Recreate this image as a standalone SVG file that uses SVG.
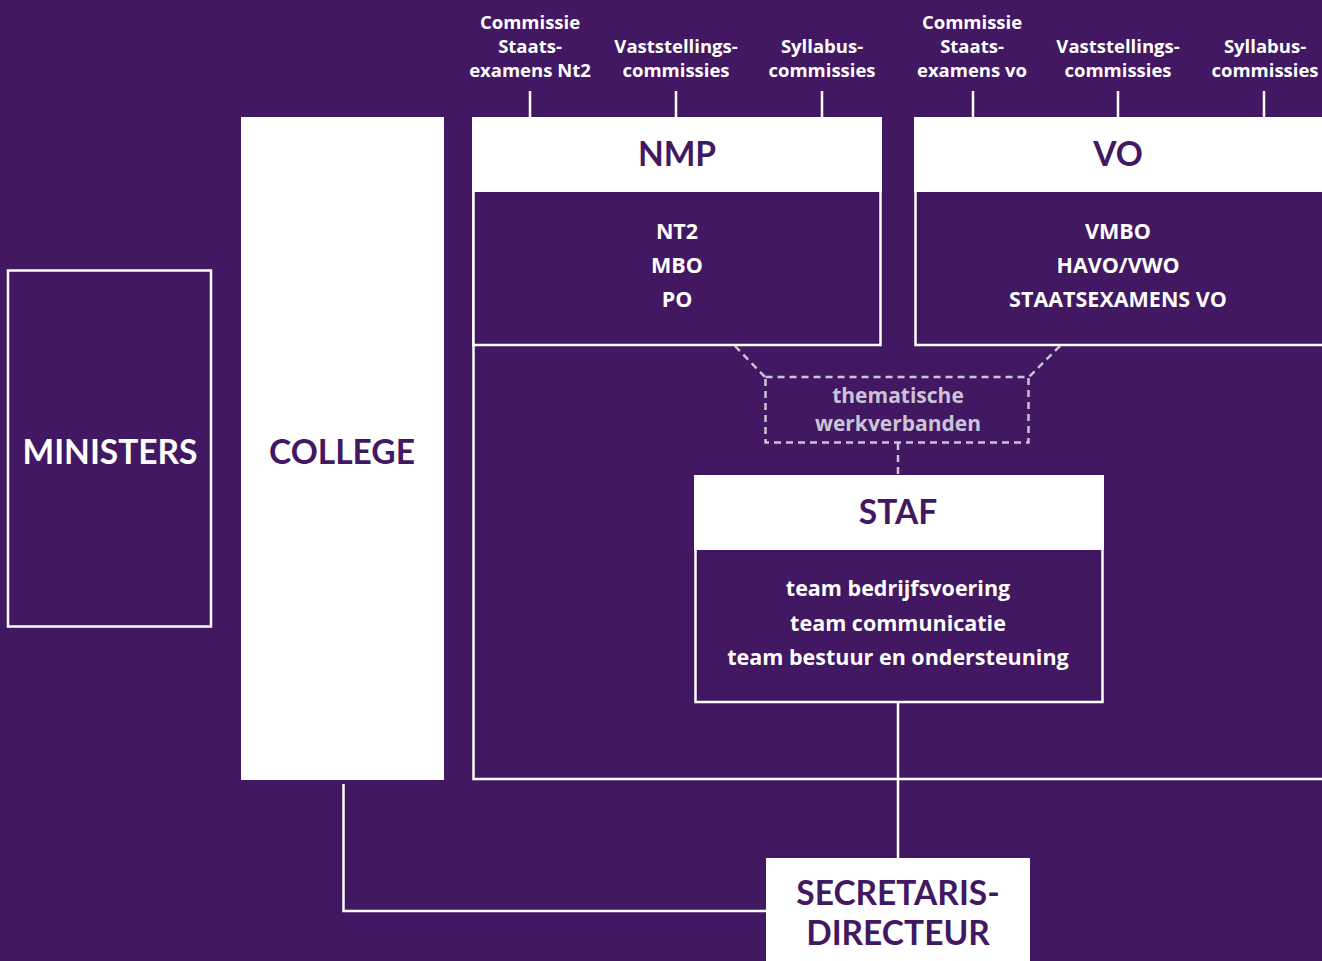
<svg xmlns="http://www.w3.org/2000/svg" width="1322" height="961" viewBox="0 0 1322 961">
<style>
.bg{fill:#421862}
.ln{stroke:#fff;stroke-width:2.5;fill:none}
.box{fill:#421862;stroke:#fff;stroke-width:2.5}
.hdr{fill:#fff}
.dash{stroke:#cbc3d6;stroke-width:2.5;fill:none;stroke-dasharray:7 5}
text{font-family:"Open Sans","Liberation Sans",sans-serif;font-weight:700;text-anchor:middle}
.sm{fill:#fff;font-size:18.5px}
.big{font-family:Lato,"Open Sans",sans-serif;font-size:33.5px}
.pw{fill:#fff}
.pp{fill:#421862}
.md{fill:#fff;font-size:21.5px}
.th{fill:#cbc3d6;font-size:21px}
</style>
<rect class="bg" x="0" y="0" width="1322" height="961"/>
<g id="connectors">
<line class="ln" x1="530" y1="91" x2="530" y2="118"/>
<line class="ln" x1="676" y1="91" x2="676" y2="118"/>
<line class="ln" x1="822" y1="91" x2="822" y2="118"/>
<line class="ln" x1="973" y1="91" x2="973" y2="118"/>
<line class="ln" x1="1118" y1="91" x2="1118" y2="118"/>
<line class="ln" x1="1264" y1="91" x2="1264" y2="118"/>
<path class="ln" d="M473.5 192 V779 H1324"/>
<polyline class="dash" points="735,346 765,377"/>
<polyline class="dash" points="1060,346 1029,377"/>
<line class="dash" x1="898" y1="443" x2="898" y2="476"/>
<line class="ln" x1="898" y1="702" x2="898" y2="859"/>
<path class="ln" d="M343.5 784 V911 H767"/>
</g>
<g id="ministers">
<rect class="box" x="8" y="270.5" width="203" height="356"/>
<text class="big pw" x="110" y="464">MINISTERS</text>
</g>
<g id="college">
<rect class="hdr" x="241" y="117" width="203" height="663"/>
<text class="big pp" x="342" y="464">COLLEGE</text>
</g>
<g id="nmp">
<rect class="box" x="473.5" y="180" width="407" height="165"/>
<rect class="hdr" x="472" y="117" width="410" height="75"/>
<text class="big pp" x="677" y="166">NMP</text>
<text class="md" x="677" y="239">NT2</text>
<text class="md" x="677" y="273">MBO</text>
<text class="md" x="677" y="307">PO</text>
</g>
<g id="vo">
<rect class="box" x="915.5" y="180" width="420" height="165"/>
<rect class="hdr" x="914" y="117" width="410" height="75"/>
<text class="big pp" x="1118" y="166">VO</text>
<text class="md" x="1118" y="239">VMBO</text>
<text class="md" x="1118" y="273">HAVO/VWO</text>
<text class="md" x="1118" y="307">STAATSEXAMENS VO</text>
</g>
<g id="nmp-commissies">
<text class="sm" x="530" y="29">Commissie</text>
<text class="sm" x="530" y="53">Staats-</text>
<text class="sm" x="530" y="77">examens Nt2</text>
<text class="sm" x="676" y="53">Vaststellings-</text>
<text class="sm" x="676" y="77">commissies</text>
<text class="sm" x="822" y="53">Syllabus-</text>
<text class="sm" x="822" y="77">commissies</text>
</g>
<g id="vo-commissies">
<text class="sm" x="972" y="29">Commissie</text>
<text class="sm" x="972" y="53">Staats-</text>
<text class="sm" x="972" y="77">examens vo</text>
<text class="sm" x="1118" y="53">Vaststellings-</text>
<text class="sm" x="1118" y="77">commissies</text>
<text class="sm" x="1265" y="53">Syllabus-</text>
<text class="sm" x="1265" y="77">commissies</text>
</g>
<g id="werkverbanden">
<rect class="dash" x="765.5" y="377" width="263" height="65.5"/>
<text class="th" x="898" y="403">thematische</text>
<text class="th" x="898" y="431">werkverbanden</text>
</g>
<g id="staf">
<rect class="box" x="695.5" y="540" width="407" height="162"/>
<rect class="hdr" x="694" y="475" width="410" height="75"/>
<text class="big pp" x="898" y="524">STAF</text>
<text class="md" x="898" y="596">team bedrijfsvoering</text>
<text class="md" x="898" y="631">team communicatie</text>
<text class="md" x="898" y="665">team bestuur en ondersteuning</text>
</g>
<g id="secretaris">
<rect class="hdr" x="766" y="858" width="264" height="110"/>
<text class="big pp" x="898" y="905">SECRETARIS-</text>
<text class="big pp" x="898" y="945">DIRECTEUR</text>
</g>
</svg>
